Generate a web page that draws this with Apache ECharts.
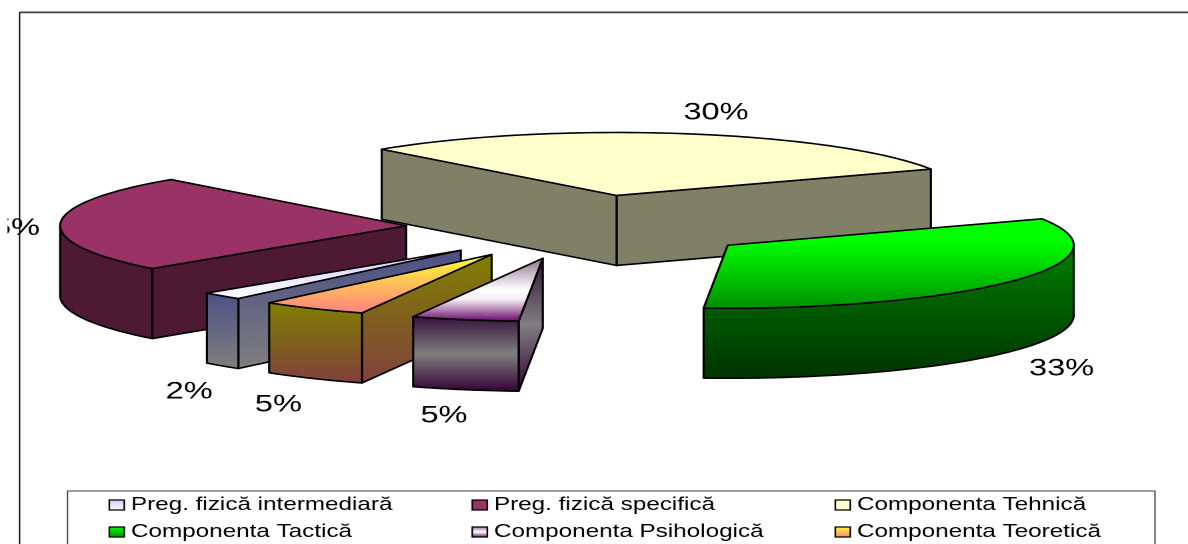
<!DOCTYPE html>
<html>
<head>
<meta charset="utf-8">
<style>
html,body{margin:0;padding:0;background:#fff;width:1188px;height:544px;overflow:hidden}
#c{position:absolute;left:0;top:0;width:891px;height:544px;transform:scaleX(1.33333);transform-origin:0 0}
</style>
<script src="https://cdn.jsdelivr.net/npm/echarts@6/dist/echarts.min.js"></script>
</head>
<body>
<div id="c"></div>
<script>
// ---- data, in the order of the legend (clockwise on the pie) ----
const categories = ['Preg. fizică intermediară','Preg. fizică specifică','Componenta Tehnică','Componenta Tactică','Componenta Psihologică','Componenta Teoretică'];
const percents = [2,25,30,33,5,5];

// ---- layout (the page is stretched horizontally by SX, as the reference is) ----
const SX = 4/3;
const px = v => v/SX;
const PIE = {cx:px(582.5), cy:227, rx:px(346), ry:63, depth:70, explode:0.51, startAngle:-130};
const LABEL_OFFSET = [[-33,26],[-53,5],[32,-21],[49,18],[-21,26],[-35,26]];
const LABEL_ON_BASE = [true,false,false,true,true,true];

const grad = (...stops) => ({type:'linear',x:0,y:0,x2:0,y2:1,
  colorStops:stops.map(s=>({offset:s[0],color:s[1]}))});
const TOP_FILL = [
  grad([0,'#CCCCFF'],[1,'#FFFFFF']),
  '#993366',
  '#FFFFCC',
  grad([0,'#00FF00'],[0.25,'#00FF00'],[1,'#009000']),
  grad([0,'#8F6F8F'],[0.5,'#FFFFFF'],[0.65,'#F4F0F4'],[1,'#660066']),
  grad([0,'#FFFF33'],[1,'#FF8080'])
];
const WALL_FILL = [
  grad([0,'#4D5085'],[1,'#808080']),
  '#4D1933',
  '#808066',
  grad([0,'#008000'],[1,'#003300']),
  grad([0,'#33113A'],[0.5,'#808080'],[1,'#330033']),
  grad([0,'#808000'],[1,'#804040'])
];
const LEGEND_FILL = [
  grad([0,'#CCCCFF'],[1,'#FFFFFF']),
  '#993366',
  '#FFFFCC',
  grad([0,'#00FF00'],[1,'#009000']),
  grad([0,'#8F6F8F'],[0.5,'#FFFFFF'],[1,'#660066']),
  grad([0,'#FFFF33'],[1,'#FF8080'])
];

// ---- slice angles, from the values ----
const angles = [];
percents.reduce((a,p) => { const b = a - p*3.6; angles.push([a,b]); return b; }, PIE.startAngle);
const rad = d => d*Math.PI/180;
const apexOf = i => {
  const m = rad((angles[i][0]+angles[i][1])/2);
  return [PIE.cx + PIE.explode*PIE.rx*Math.cos(m), PIE.cy - PIE.explode*PIE.ry*Math.sin(m)];
};
const onRim = (o,a) => [o[0]+PIE.rx*Math.cos(rad(a)), o[1]-PIE.ry*Math.sin(rad(a))];

function sliceElements(i, val){
  const [a0] = angles[i];
  const a1 = a0 - val*3.6;
  const o = apexOf(i);
  const steps = Math.max(2, Math.ceil((a0-a1)/1.5));
  const rim = [];
  for(let k=0;k<=steps;k++) rim.push(onRim(o, a0+(a1-a0)*k/steps));
  const line = {stroke:'#000', lineWidth:1.6, lineJoin:'round'};
  const wall = chain => ({type:'polygon', silent:true,
    shape:{points:chain.concat(chain.slice().reverse().map(p=>[p[0],p[1]+PIE.depth]))},
    style:Object.assign({fill:WALL_FILL[i]},line)});
  const kids = [];
  // faces turned to the viewer: the outline runs right-to-left there
  const outline = [o].concat(rim,[o]);
  let chain = [];
  const flush = () => { if(chain.length>1) kids.push(wall(chain)); chain=[]; };
  for(let k=0;k<outline.length-1;k++){
    const p=outline[k], q=outline[k+1];
    const isCut = k===0 || k===outline.length-2;
    if(q[0]<p[0]-1e-6){
      if(isCut){ flush(); kids.push(wall([p,q])); }
      else { if(!chain.length) chain.push(p); chain.push(q); }
    } else flush();
  }
  flush();
  kids.push({type:'polygon', silent:true, shape:{points:[o].concat(rim)},
    style:Object.assign({fill:TOP_FILL[i]},line)});
  // label
  const m = (a0+a1)/2, lp = onRim(o,m);
  kids.push({type:'text', silent:true,
    x:lp[0]+px(LABEL_OFFSET[i][0]),
    y:lp[1]+(LABEL_ON_BASE[i]?PIE.depth:0)+LABEL_OFFSET[i][1],
    style:{text:val+'%', fill:'#000', font:'24.4px "Liberation Sans", Arial, sans-serif',
      textAlign:'center', textVerticalAlign:'middle'}});
  return kids;
}

const series = categories.map((name,i) => ({
  type:'custom', name, coordinateSystem:'none', z:Math.round(apexOf(i)[1]),
  data:[[percents[i]]],
  itemStyle:{color:LEGEND_FILL[i]},
  renderItem:(p,api) => ({type:'group', children:sliceElements(i, api.value(0))})
}));

const legendCol = (idx, left) => ({
  left:px(left), top:496, orient:'vertical', itemGap:9, padding:0,
  itemWidth:px(15), itemHeight:10, itemStyle:{borderColor:'#000',borderWidth:1.2},
  textStyle:{fontFamily:'"Liberation Sans", Arial, sans-serif', fontSize:18.2, color:'#000'},
  selectedMode:false,
  data:idx.map(i=>({name:categories[i], icon:'rect', itemStyle:{color:LEGEND_FILL[i]}}))
});

const chart = echarts.init(document.getElementById('c'), null, {renderer:'canvas', devicePixelRatio:2});
chart.setOption({
  animation:false,
  backgroundColor:'#fff',
  legend:[legendCol([0,3],108.5), legendCol([1,4],471.5), legendCol([2,5],834.5)],
  series,
  graphic:[
    {type:'rect', z:500, silent:true, shape:{x:0,y:0,width:px(7.5),height:544}, style:{fill:'#fff'}},
    {type:'rect', z:501, silent:true, shape:{x:px(20),y:11.5,width:px(1170),height:1.8}, style:{fill:'#404040'}},
    {type:'rect', z:501, silent:true, shape:{x:px(19),y:12,width:px(1.3),height:532}, style:{fill:'#000'}},
    {type:'rect', z:1, silent:true, shape:{x:px(67.5),y:491,width:px(1087.5),height:70},
      style:{fill:'#fff',stroke:'#404040',lineWidth:1}}
  ]
});
</script>
</body>
</html>
